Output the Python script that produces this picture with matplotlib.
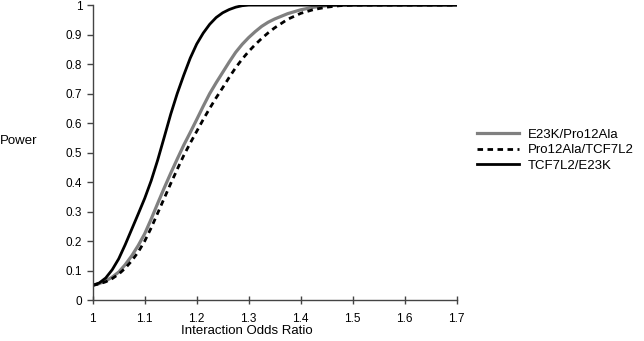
import matplotlib
matplotlib.use("Agg")
import matplotlib.pyplot as plt
import numpy as np

plt.rcParams["font.family"] = ["Liberation Sans", "DejaVu Sans"]

# ---------- Data ----------
odds_ratio = [1.0000, 1.0125, 1.0250, 1.0375, 1.0500, 1.0625, 1.0750, 1.0875,
              1.1000, 1.1125, 1.1250, 1.1375, 1.1500, 1.1625, 1.1750, 1.1875,
              1.2000, 1.2125, 1.2250, 1.2375, 1.2500, 1.2625, 1.2750, 1.2875,
              1.3000, 1.3125, 1.3250, 1.3375, 1.3500,
              1.375, 1.400, 1.425, 1.450, 1.475, 1.500, 1.600, 1.700]

e23k_pro12ala = [0.050, 0.056, 0.065, 0.078, 0.095, 0.120, 0.150, 0.185,
                 0.225, 0.275, 0.328, 0.380, 0.430, 0.478, 0.525, 0.568,
                 0.612, 0.657, 0.700, 0.737, 0.772, 0.807, 0.840, 0.867,
                 0.890, 0.910, 0.928, 0.942, 0.953,
                 0.971, 0.984, 0.993, 0.998, 1.000, 1.000, 1.000, 1.000]

pro12ala_tcf7l2 = [0.050, 0.055, 0.062, 0.073, 0.088, 0.108, 0.133, 0.163,
                   0.200, 0.245, 0.295, 0.345, 0.395, 0.443, 0.490, 0.532,
                   0.572, 0.612, 0.650, 0.686, 0.720, 0.755, 0.788, 0.817,
                   0.843, 0.866, 0.887, 0.906, 0.923,
                   0.952, 0.972, 0.985, 0.993, 0.998, 1.000, 1.000, 1.000]

tcf7l2_e23k = [0.050, 0.058, 0.075, 0.103, 0.140, 0.188, 0.240, 0.292,
               0.345, 0.405, 0.475, 0.552, 0.630, 0.700, 0.762, 0.820,
               0.868, 0.905, 0.935, 0.958, 0.974, 0.985, 0.993, 0.998,
               1.000, 1.000, 1.000, 1.000, 1.000,
               1.000, 1.000, 1.000, 1.000, 1.000, 1.000, 1.000, 1.000]

labels = ["E23K/Pro12Ala", "Pro12Ala/TCF7L2", "TCF7L2/E23K"]
x_ticks = [1, 1.1, 1.2, 1.3, 1.4, 1.5, 1.6, 1.7]
x_tick_labels = ["1", "1.1", "1.2", "1.3", "1.4", "1.5", "1.6", "1.7"]
y_ticks = [0, 0.1, 0.2, 0.3, 0.4, 0.5, 0.6, 0.7, 0.8, 0.9, 1]
y_tick_labels = ["0", "0.1", "0.2", "0.3", "0.4", "0.5", "0.6", "0.7", "0.8", "0.9", "1"]

# ---------- Figure ----------
fig = plt.figure(figsize=(6.44, 3.41), dpi=100)
ax = fig.add_axes([0.144, 0.12, 0.565, 0.865])

ax.plot(odds_ratio, e23k_pro12ala, color="#808080", linewidth=2.3,
        solid_joinstyle="round", label=labels[0])
ax.plot(odds_ratio, pro12ala_tcf7l2, color="black", linewidth=2.0,
        linestyle=(0, (2, 1.6)), label=labels[1])
ax.plot(odds_ratio, tcf7l2_e23k, color="black", linewidth=2.0,
        solid_joinstyle="round", label=labels[2])

ax.set_xlim(1, 1.7)
ax.set_ylim(0, 1)
ax.set_xticks(x_ticks)
ax.set_xticklabels(x_tick_labels)
ax.set_yticks(y_ticks)
ax.set_yticklabels(y_tick_labels)
ax.tick_params(axis="both", labelsize=8.5, length=4, width=1, color="#444444")
ax.tick_params(axis="x", direction="inout", length=6, pad=6)

for side in ["top", "right"]:
    ax.spines[side].set_visible(False)
for side in ["left", "bottom"]:
    ax.spines[side].set_color("#444444")
    ax.spines[side].set_linewidth(1)

ax.set_xlabel("Interaction Odds Ratio", fontsize=9.5)
ax.xaxis.set_label_coords(0.423, -0.085)
ax.set_ylabel("Power", fontsize=9.5, rotation=0, va="center", ha="center")
ax.yaxis.set_label_coords(-0.205, 0.54)

fig.legend(loc="center left", bbox_to_anchor=(0.74, 0.56), frameon=False,
           fontsize=9.5, handlelength=3.2, handletextpad=0.7,
           labelspacing=0.25, borderpad=0, borderaxespad=0)

fig.savefig("out.png", dpi=100)
